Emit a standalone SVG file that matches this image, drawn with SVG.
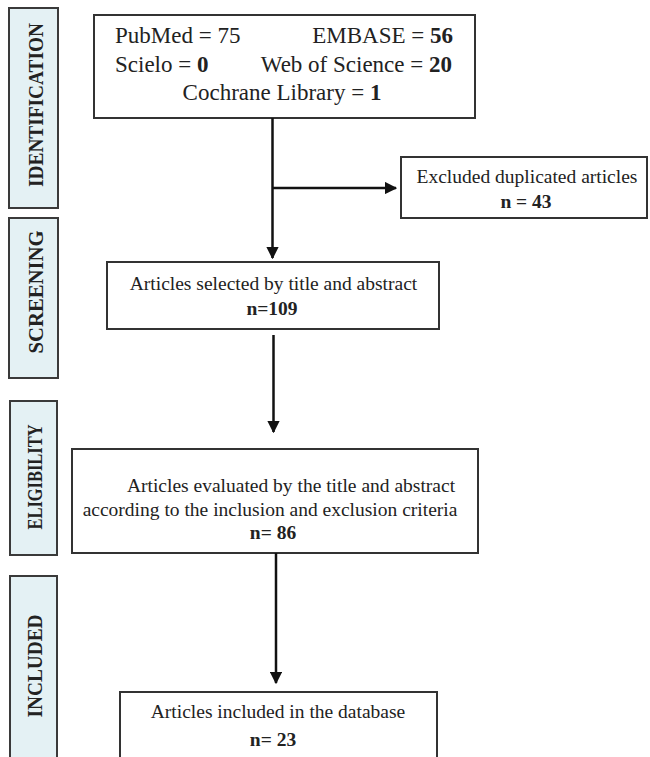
<svg xmlns="http://www.w3.org/2000/svg" width="650" height="757" viewBox="0 0 650 757">
<style>
.stage rect{fill:#e4f1f4;stroke:#3a3a3a;stroke-width:2}
.stage text{font-family:"Liberation Serif","Times New Roman",serif;font-weight:bold;font-size:22px;fill:#222;text-anchor:middle}
.box rect{fill:#fff;stroke:#333;stroke-width:2}
.box text{font-family:"Liberation Serif","Times New Roman",serif;fill:#222;font-size:19.5px}
.big text{font-size:23px}
.c{text-anchor:middle}
.b{font-weight:bold}
.conn line{stroke:#111;stroke-width:2.5}
</style>
<defs>
<marker id="ah" markerWidth="5" markerHeight="5" refX="4.5" refY="2.5" orient="auto" markerUnits="strokeWidth">
<path d="M0,0 L5,2.5 L0,5 Z" fill="#111"/>
</marker>
</defs>
<g id="stage-identification" class="stage">
<rect x="9" y="8" width="49" height="200"/>
<text transform="translate(43,105) rotate(-90)" textLength="164" lengthAdjust="spacingAndGlyphs">IDENTIFICATION</text>
</g>
<g id="stage-screening" class="stage">
<rect x="9" y="218" width="49" height="160"/>
<text transform="translate(43,292) rotate(-90)" textLength="123" lengthAdjust="spacingAndGlyphs">SCREENING</text>
</g>
<g id="stage-eligibility" class="stage">
<rect x="10" y="401" width="47" height="154"/>
<text transform="translate(42,477) rotate(-90)" textLength="105" lengthAdjust="spacingAndGlyphs">ELIGIBILITY</text>
</g>
<g id="stage-included" class="stage">
<rect x="10" y="576" width="47" height="190"/>
<text transform="translate(42,666) rotate(-90)" textLength="103" lengthAdjust="spacingAndGlyphs">INCLUDED</text>
</g>
<g id="sources" class="box big">
<rect x="94" y="15" width="381" height="103"/>
<text x="115" y="43">PubMed = 75</text>
<text x="453" y="43" text-anchor="end">EMBASE = <tspan class="b">56</tspan></text>
<text x="115" y="72">Scielo = <tspan class="b">0</tspan></text>
<text x="452" y="72" text-anchor="end">Web of Science = <tspan class="b">20</tspan></text>
<text x="282" y="100" class="c">Cochrane Library = <tspan class="b">1</tspan></text>
</g>
<g id="excluded" class="box">
<rect x="401" y="157" width="246" height="61"/>
<text x="527" y="183" class="c">Excluded duplicated articles</text>
<text x="526" y="208" class="c b">n = 43</text>
</g>
<g id="screening" class="box">
<rect x="107" y="262" width="332" height="67"/>
<text x="273.5" y="290" class="c">Articles selected by title and abstract</text>
<text x="272" y="315" class="c b">n=109</text>
</g>
<g id="eligibility" class="box">
<rect x="72" y="449" width="406" height="104"/>
<text x="291" y="492" class="c">Articles evaluated by the title and abstract</text>
<text x="270" y="516" class="c">according to the inclusion and exclusion criteria</text>
<text x="273" y="539" class="c b">n= 86</text>
</g>
<g id="included" class="box">
<rect x="120" y="692" width="317" height="80"/>
<text x="278" y="718" class="c">Articles included in the database</text>
<text x="273" y="746" class="c b">n= 23</text>
</g>
<g id="connectors" class="conn">
<line x1="272.5" y1="118" x2="272.5" y2="258" marker-end="url(#ah)"/>
<line x1="272.5" y1="188" x2="396" y2="188" marker-end="url(#ah)"/>
<line x1="273.5" y1="335" x2="273.5" y2="432" marker-end="url(#ah)"/>
<line x1="276" y1="553" x2="276" y2="683" marker-end="url(#ah)"/>
</g>
</svg>
